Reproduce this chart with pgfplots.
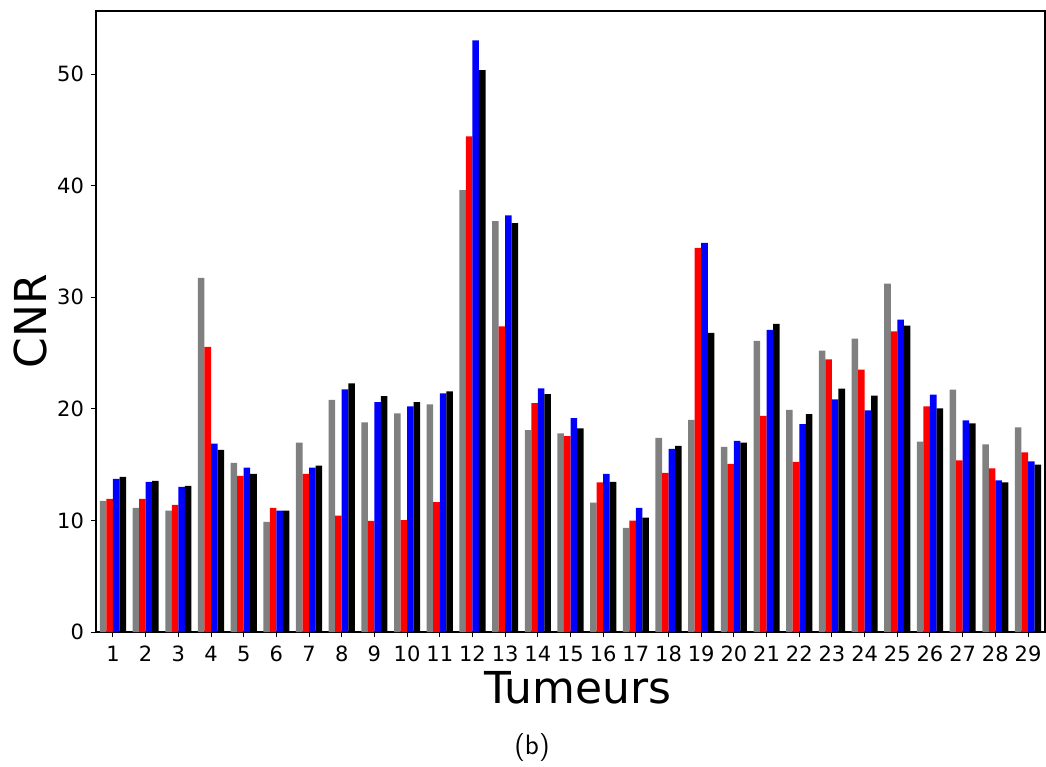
\documentclass[border=0pt]{standalone}
\usepackage{pgfplots}
\usepackage{pgfplotstable}
\pgfplotsset{compat=1.18}
\usepackage{fontspec}
\setmainfont{DejaVu Sans}
\pgfplotstableread{
x g r b k
1 11.76 11.94 13.73 13.91
2 11.13 11.94 13.46 13.55
3 10.87 11.40 13.01 13.10
4 31.73 25.55 16.87 16.33
5 15.16 14.00 14.72 14.18
6 9.88 11.13 10.87 10.87
7 16.96 14.18 14.72 14.90
8 20.81 10.42 21.75 22.27
9 18.79 9.95 20.59 21.13
10 19.60 10.02 20.22 20.59
11 20.40 11.63 21.39 21.57
12 39.60 44.42 53.02 50.35
13 36.82 27.39 37.33 36.64
14 18.10 20.51 21.83 21.32
15 17.81 17.55 19.16 18.25
16 11.60 13.40 14.18 13.46
17 9.34 9.97 11.13 10.24
18 17.40 14.27 16.42 16.69
19 19.01 34.42 34.87 26.81
20 16.60 15.07 17.13 16.96
21 26.09 19.37 27.07 27.61
22 19.91 15.25 18.63 19.52
23 25.22 24.42 20.84 21.82
24 26.30 23.52 19.85 21.19
25 31.22 26.93 28.00 27.46
26 17.07 20.21 21.28 20.03
27 21.73 15.37 18.96 18.69
28 16.81 14.66 13.58 13.40
29 18.33 16.09 15.28 15.01
}\data
\begin{document}
\begin{tikzpicture}
\path[use as bounding box] (-48pt,-67.5pt) rectangle (475pt,316pt);
\begin{axis}[
  at={(0,0)}, anchor=south west,
  scale only axis, width=474.5pt, height=310.5pt,
  xmin=0.48, xmax=29.52, ymin=0, ymax=55.65,
  xtick={1,...,29}, ytick={0,10,20,30,40,50},
  tick align=outside, major tick length=2.5pt,
  tick style={black, line width=0.5pt},
  xtick pos=bottom, ytick pos=left,
  axis line style={black, line width=0.6pt},
  tick label style={font=\fontsize{10.5}{12}\selectfont},
  /pgf/number format/assume math mode=true,
  xticklabel style={yshift=-1pt},
  clip=false,
]
\addplot[ybar, bar width=0.2, bar shift=-0.3, fill={rgb,255:red,128;green,128;blue,128}, draw=none] table[x=x,y=g]{\data};
\addplot[ybar, bar width=0.2, bar shift=-0.1, fill=red, draw=none] table[x=x,y=r]{\data};
\addplot[ybar, bar width=0.2, bar shift=0.1, fill=blue, draw=none] table[x=x,y=b]{\data};
\addplot[ybar, bar width=0.2, bar shift=0.3, fill=black, draw=none] table[x=x,y=k]{\data};
\end{axis}
\node[rotate=90, font=\fontsize{22}{26}\selectfont] at (-33pt,155.5pt) {CNR};
\node[font=\fontsize{22}{26}\selectfont] at (241pt,-28pt) {Tumeurs};
\node[font=\sffamily\fontsize{14}{16}\selectfont] at (218pt,-58pt) {(b)};
\end{tikzpicture}
\end{document}
